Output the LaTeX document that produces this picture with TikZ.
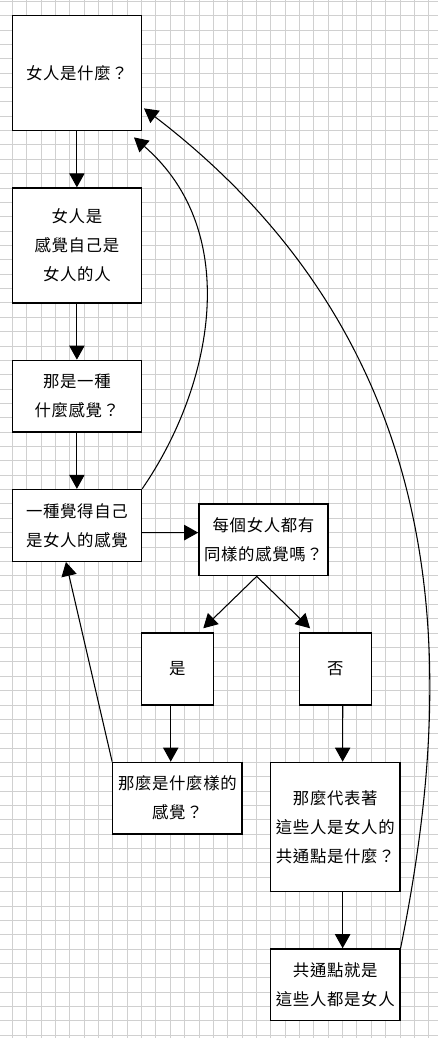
\documentclass[tikz,border=0pt]{standalone}
\usepackage{fontspec}
\usetikzlibrary{arrows.meta}
\newfontfamily\cjk[LetterSpace=4]{Noto Sans CJK TC}
\definecolor{gridgray}{RGB}{208,208,208}
\tikzset{
  box/.style={draw, line width=1pt, fill=white, inner sep=0pt, align=center,
    font=\cjk\fontsize{12.3pt}{21.75pt}\selectfont},
  wide/.style={minimum width=129.2*0.75pt},
  narrow/.style={minimum width=71.8*0.75pt},
  arr/.style={line width=0.8pt, -{Triangle[length=10.5pt, width=11.5pt]}},
  gridline/.style={gridgray, line width=0.7pt}
}
\begin{document}
\begin{tikzpicture}[x=0.75pt, y=-0.75pt]
\useasboundingbox (0,0) rectangle (438,1038);
\fill[white] (0,0) rectangle (438,1038);
\foreach \k in {0,...,29} \draw[gridline] ({12.3+\k*14.36},0) -- ({12.3+\k*14.36},1038);
\foreach \k in {-1,...,71} \draw[gridline] (0,{15.7+\k*14.36}) -- (438,{15.7+\k*14.36});

\node[box, wide, minimum height=114.9*0.75pt] (b1) at (76.9,73.15) {女人是什麼？};
\node[box, wide, minimum height=114.9*0.75pt] (b2) at (76.9,245.45) {女人是\\感覺自己是\\女人的人};
\node[box, wide, minimum height=71.8*0.75pt] (b3) at (76.9,396.2) {那是一種\\什麼感覺？};
\node[box, wide, minimum height=71.8*0.75pt] (b4) at (76.9,525.4) {一種覺得自己\\是女人的感覺};
\node[box, wide, minimum height=71.8*0.75pt] (b5) at (263.5,539.8) {每個女人都有\\同樣的感覺嗎？};
\node[box, narrow, minimum height=71.8*0.75pt] (b6) at (177.4,669) {是};
\node[box, narrow, minimum height=71.8*0.75pt] (b7) at (335.4,669) {否};
\node[box, wide, minimum height=71.8*0.75pt] (b8) at (177.4,798.2) {那麼是什麼樣的\\感覺？};
\node[box, wide, minimum height=129.2*0.75pt] (b9) at (335.3,826.9) {那麼代表著\\這些人是女人的\\共通點是什麼？};
\node[box, wide, minimum height=71.8*0.75pt] (b10) at (335.3,984.8) {共通點就是\\這些人都是女人};

\draw[arr] (b1.south) -- (b2.north);
\draw[arr] (b2.south) -- (b3.north);
\draw[arr] (b3.south) -- (b4.north);
\draw[arr] ([yshift=-5.4pt]b4.east) -- ([yshift=5.4pt]b5.west);
\draw[arr] ([xshift=-5.1pt]b5.south) -- ([xshift=19.4pt, yshift=3.1pt]b6.north);
\draw[arr] ([xshift=-5.1pt]b5.south) -- ([xshift=-19pt, yshift=3.1pt]b7.north);
\draw[arr] ([xshift=-5pt]b6.south) -- ([xshift=-5pt]b8.north);
\draw[arr] ([xshift=5.5pt]b7.south) -- ([xshift=5.5pt]b9.north);
\draw[arr] ([xshift=5.5pt]b9.south) -- ([xshift=5.5pt]b10.north);
\draw[arr] (b8.north west) -- ([xshift=-8.25pt]b4.south);
\draw[arr] (b4.north east) .. controls (213,386) and (243,232) .. ([xshift=-6.15pt, yshift=-4.6pt]b1.south east);
\draw[arr] (b10.north east) .. controls (451.9,694.1) and (470,358) .. ([xshift=1.35pt, yshift=-26.4pt]b1.east);
\end{tikzpicture}
\end{document}
